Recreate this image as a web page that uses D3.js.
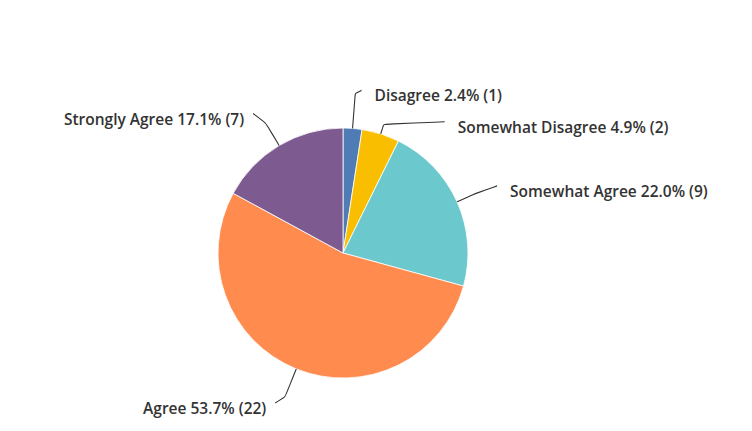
<!DOCTYPE html>
<html><head><meta charset="utf-8">
<script src="https://cdn.jsdelivr.net/npm/d3@7"></script>
<style>body{margin:0;background:#fff}svg{display:block}</style>
</head><body><svg id="c" width="752" height="431"></svg>
<script>
const categories = ["Disagree","Somewhat Disagree","Somewhat Agree","Agree","Strongly Agree"];
const counts = [1, 2, 9, 22, 7];
const percents = ["2.4%","4.9%","22.0%","53.7%","17.1%"];
const colors = ["#507CB6","#F9BE00","#6BC8CD","#FF8B4F","#7D5B90"];
// leader layout: radial elbow extension, end offset from arc anchor
const leaderLayout = [
  {ext:35, dx:9, dy:-38},
  {ext:10, dx:64, dy:-12},
  {ext:20, dx:40, dy:-16},
  {ext:30, dx:-21, dy:34},
  {ext:26, dx:-26, dy:-32}
];

const W=752,H=431, cx=343, cy=253, R=125;
const svg=d3.select("#c");
const g=svg.append("g").attr("transform",`translate(${cx},${cy})`);
const data=categories.map((c,i)=>({cat:c,count:counts[i],pct:percents[i],color:colors[i],lay:leaderLayout[i]}));
const pie=d3.pie().value(d=>d.count).sort(null);
const arc=d3.arc().innerRadius(0).outerRadius(R);
const arcs=pie(data);
g.selectAll("path.slice").data(arcs).join("path").attr("class","slice")
  .attr("d",arc).attr("fill",d=>d.data.color).attr("stroke","#fff").attr("stroke-width",0.8);

const line=d3.line().curve(d3.curveBasis);
arcs.forEach(a=>{
  const m=(a.startAngle+a.endAngle)/2;
  const p0=[R*Math.sin(m), -R*Math.cos(m)];
  const re=R+a.data.lay.ext;
  const pc=[re*Math.sin(m), -re*Math.cos(m)];
  const pe=[p0[0]+a.data.lay.dx, p0[1]+a.data.lay.dy];
  g.append("path").attr("d",line([p0,pc,pc,pe])).attr("fill","none")
    .attr("stroke","#333").attr("stroke-width",1.1);
  const right=a.data.lay.dx>=0;
  g.append("text").attr("x",pe[0]+(right?13:-9)).attr("y",pe[1]+5)
    .attr("dominant-baseline","central").attr("text-anchor",right?"start":"end")
    .attr("font-family","'Open Sans', sans-serif").attr("font-weight",600)
    .attr("font-size",15.5).attr("fill","#333")
    .text(`${a.data.cat} ${a.data.pct} (${a.data.count})`);
});
</script></body></html>
